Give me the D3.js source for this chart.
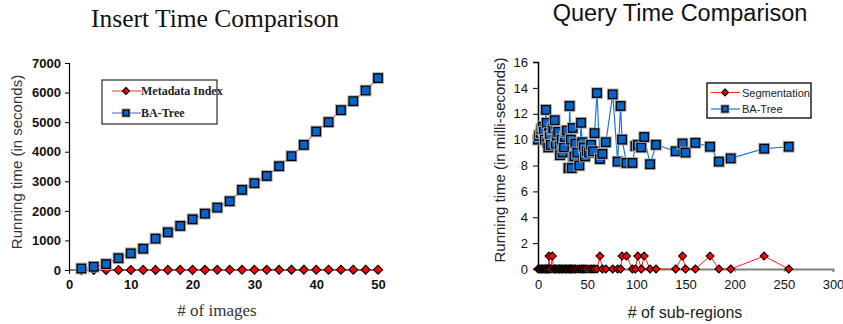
<!DOCTYPE html>
<html><head><meta charset="utf-8">
<script src="https://cdn.jsdelivr.net/npm/d3@7"></script>
<style>body{margin:0;background:#fff}svg{display:block}</style>
</head><body>
<svg id="c" width="843" height="324"></svg>
<script>
// ---- Insert Time Comparison ----
const insertImages = [2,4,6,8,10,12,14,16,18,20,22,24,26,28,30,32,34,36,38,40,42,44,46,48,50];
const insertBATree = [50,110,200,400,565,720,1060,1275,1490,1715,1905,2110,2325,2710,2935,3180,3510,3850,4230,4685,5000,5405,5710,6070,6490];
const insertMetadata = [2,2,3,3,3,4,4,4,5,5,5,6,6,6,7,7,7,8,8,8,9,9,9,10,10];
const insertXTicks = [0,10,20,30,40,50];
const insertYTicks = [0,1000,2000,3000,4000,5000,6000,7000];

// ---- Query Time Comparison ----
const queryRegions = [0,1,2.7,3.5,4.8,6,7,8.1,8.8,9.5,10.5,11.2,12,13,14.6,15.6,17,18,19,20.7,22,22.4,24,25,26.5,27.5,28.5,29.5,31,32.2,33.3,34.3,35.3,37,38,40,42,43.8,45,46.5,47.8,49.5,52,54,56,57.5,60,63,65.5,69,76,81,84,85.5,90,96,99,101.5,105,108,114,120,140,147,150,160,175,184,196,230,255];
const queryBATree = [10.0,10.3,10.5,10.8,11.0,10.6,10.0,12.3,11.3,9.8,9.4,10.5,10.2,9.6,10.8,10.9,11.5,9.7,10.3,10.6,9.5,8.8,10.0,9.0,9.4,10.2,10.6,10.7,7.8,12.6,10.0,7.8,10.9,8.7,9.7,9.0,8.0,11.3,9.8,9.4,8.7,9.1,9.0,9.6,9.1,10.5,13.6,8.5,8.9,9.8,13.5,8.3,12.6,10.0,8.2,8.2,9.5,9.6,9.4,10.2,8.1,9.6,9.1,9.7,9.0,9.75,9.45,8.3,8.55,9.3,9.45];
const querySegmentation = [0,0,0,0,0,0,0,0,0,0,0,1,0,0,1,0,0,0,0,0,0,0,0,0,0,0,0,0,0,0,0,0,0,0,0,0,0,0,0,0,0,0,0,0,0,0,0,1,0,0,0,0,0,1,1,0,0,1,0,1,0,0,0,1,0,0,1,0,0,1,0];
const queryXTicks = [0,50,100,150,200,250,300];
const queryYTicks = [0,2,4,6,8,10,12,14,16];

const svg = d3.select("#c");
const blueFill = "#0a64c8";

function square(g, x, y, s) {
  g.append("rect").attr("x", x - s/2 - 1).attr("y", y - s/2 - 1).attr("width", s + 2).attr("height", s + 2)
    .attr("fill", "none").attr("stroke", "#aaa").attr("stroke-width", 1.2);
  g.append("rect").attr("x", x - s/2).attr("y", y - s/2).attr("width", s).attr("height", s)
    .attr("fill", blueFill).attr("stroke", "#000").attr("stroke-width", 1.3);
}
function diamond(g, x, y, r) {
  g.append("path").attr("d", `M${x},${y-r}L${x+r},${y}L${x},${y+r}L${x-r},${y}Z`)
    .attr("fill", "#ff0000").attr("stroke", "#000").attr("stroke-width", 1.1);
}

// ================= LEFT CHART =================
{
  const x = d3.scaleLinear().domain([0,50]).range([69,378]);
  const y = d3.scaleLinear().domain([0,7000]).range([270,63]);
  const g = svg.append("g");

  g.append("text").attr("x", 215).attr("y", 27).attr("text-anchor", "middle")
    .attr("font-family", "Liberation Serif, Times New Roman, serif").attr("font-size", 25.5).attr("fill", "#111")
    .text("Insert Time Comparison");

  const ya = g.append("g").attr("transform", "translate(69,0)")
    .call(d3.axisLeft(y).tickValues(insertYTicks).tickSize(4).tickPadding(4).tickFormat(d3.format("d")));
  const xa = g.append("g").attr("transform", "translate(0,270)")
    .call(d3.axisBottom(x).tickValues(insertXTicks).tickSize(4).tickPadding(6));
  [ya, xa].forEach(a => {
    a.select(".domain").attr("stroke", "#000").attr("stroke-width", 1.2);
    a.selectAll(".tick line").attr("stroke", "#000");
    a.selectAll("text").attr("font-family", "Liberation Sans, Arial, sans-serif").attr("font-size", 13)
      .attr("font-weight", "bold").attr("fill", "#111");
  });
  xa.select(".domain").attr("d", "M69,0H383");

  g.append("text").attr("transform", "translate(22,162) rotate(-90)").attr("text-anchor", "middle")
    .attr("font-family", "Liberation Sans, Arial, sans-serif").attr("font-size", 15).attr("fill", "#333")
    .text("Running time (in seconds)");
  g.append("text").attr("x", 217).attr("y", 316).attr("text-anchor", "middle")
    .attr("font-family", "Liberation Serif, Times New Roman, serif").attr("font-size", 17).attr("fill", "#333")
    .text("# of images");

  const line = d3.line().x(d => x(d[0])).y(d => y(d[1]));
  g.append("path").datum(insertImages.map((d,i)=>[d, insertMetadata[i]])).attr("d", line)
    .attr("fill", "none").attr("stroke", "#ff3030").attr("stroke-width", 1);
  g.append("path").datum(insertImages.map((d,i)=>[d, insertBATree[i]])).attr("d", line)
    .attr("fill", "none").attr("stroke", "#6677dd").attr("stroke-width", 1.2);
  insertImages.forEach((d,i) => diamond(g, x(d), y(insertMetadata[i]), 4.5));
  insertImages.forEach((d,i) => square(g, x(d), y(insertBATree[i]), 8.5));

  // legend
  g.append("rect").attr("x", 102).attr("y", 80).attr("width", 115).attr("height", 44)
    .attr("fill", "#fff").attr("stroke", "#000").attr("stroke-width", 1);
  g.append("line").attr("x1", 112).attr("x2", 141).attr("y1", 91).attr("y2", 91).attr("stroke", "#ff3030");
  diamond(g, 126, 91, 3.5);
  g.append("line").attr("x1", 112).attr("x2", 141).attr("y1", 113).attr("y2", 113).attr("stroke", "#6677dd").attr("stroke-width", 1.2);
  square(g, 126, 113, 6);
  const lf = "Liberation Serif, Times New Roman, serif";
  g.append("text").attr("x", 141).attr("y", 95).attr("font-family", lf).attr("font-size", 12).attr("font-weight", "bold").attr("fill", "#222").text("Metadata Index");
  g.append("text").attr("x", 141).attr("y", 117).attr("font-family", lf).attr("font-size", 12).attr("font-weight", "bold").attr("fill", "#222").text("BA-Tree");
}

// ================= RIGHT CHART =================
{
  const x = d3.scaleLinear().domain([0,300]).range([538,833]);
  const y = d3.scaleLinear().domain([0,16]).range([269,62]);
  const g = svg.append("g");
  const af = "Liberation Sans, Arial, sans-serif";

  g.append("text").attr("x", 680).attr("y", 21).attr("text-anchor", "middle")
    .attr("font-family", af).attr("font-size", 23.5).attr("fill", "#111")
    .text("Query Time Comparison");

  const ya = g.append("g").attr("transform", "translate(538,0)")
    .call(d3.axisLeft(y).tickValues(queryYTicks).tickSize(5).tickPadding(5));
  const xa = g.append("g").attr("transform", "translate(0,269)")
    .call(d3.axisBottom(x).tickValues(queryXTicks).tickSize(3).tickPadding(8));
  ya.select(".domain").attr("stroke", "#000").attr("stroke-width", 1.5);
  ya.selectAll(".tick line").attr("stroke", "#000");
  xa.select(".domain").attr("stroke", "#808080").attr("stroke-width", 2);
  xa.selectAll(".tick line").attr("stroke", "#808080");
  [ya, xa].forEach(a => a.selectAll("text").attr("font-family", af).attr("font-size", 13).attr("fill", "#111"));

  g.append("text").attr("transform", "translate(505,160) rotate(-90)").attr("text-anchor", "middle")
    .attr("font-family", af).attr("font-size", 15).attr("fill", "#222")
    .text("Running time (in milli-seconds)");
  g.append("text").attr("x", 685).attr("y", 318).attr("text-anchor", "middle")
    .attr("font-family", af).attr("font-size", 16).attr("fill", "#222")
    .text("# of sub-regions");

  const line = d3.line().x(d => x(d[0])).y(d => y(d[1]));
  g.append("path").datum(queryRegions.map((d,i)=>[d, querySegmentation[i]])).attr("d", line)
    .attr("fill", "none").attr("stroke", "#ff2020").attr("stroke-width", 1);
  g.append("path").datum(queryRegions.map((d,i)=>[d, queryBATree[i]])).attr("d", line)
    .attr("fill", "none").attr("stroke", "#1e78dc").attr("stroke-width", 1.2);
  queryRegions.forEach((d,i) => diamond(g, x(d), y(querySegmentation[i]), 4));
  queryRegions.forEach((d,i) => square(g, x(d), y(queryBATree[i]), 8.5));

  g.append("rect").attr("x", 707).attr("y", 83).attr("width", 104).attr("height", 35)
    .attr("fill", "#fff").attr("stroke", "#000").attr("stroke-width", 1.3);
  g.append("line").attr("x1", 711).attr("x2", 740).attr("y1", 92.5).attr("y2", 92.5).attr("stroke", "#ff2020");
  diamond(g, 725, 92.5, 3.5);
  g.append("line").attr("x1", 711).attr("x2", 740).attr("y1", 109).attr("y2", 109).attr("stroke", "#1e78dc").attr("stroke-width", 1.2);
  square(g, 725, 109, 6);
  g.append("text").attr("x", 742).attr("y", 96.5).attr("font-family", af).attr("font-size", 11).attr("fill", "#222").text("Segmentation");
  g.append("text").attr("x", 742).attr("y", 113).attr("font-family", af).attr("font-size", 11).attr("fill", "#222").text("BA-Tree");
}
</script>
</body></html>
